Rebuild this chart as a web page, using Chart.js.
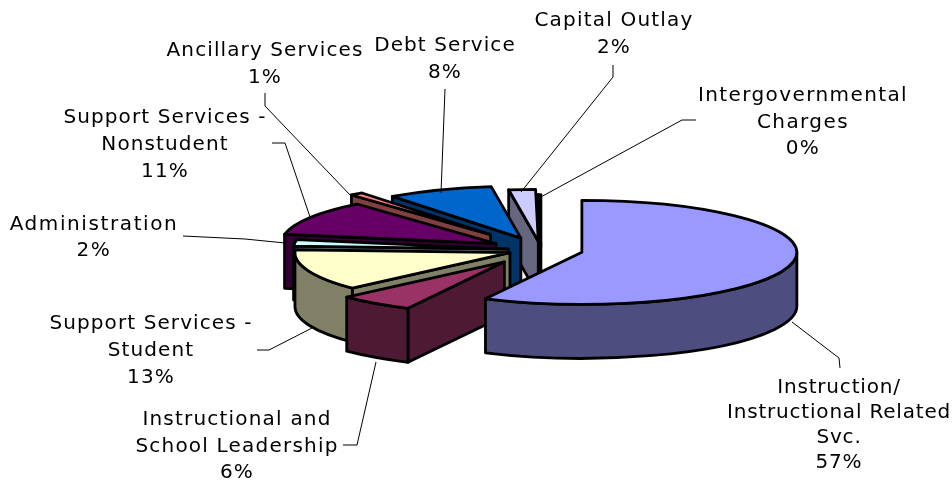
<!DOCTYPE html>
<html>
<head>
<meta charset="utf-8">
<style>
  html, body { margin: 0; padding: 0; background: #fff; }
  canvas { display: block; }
</style>
<script src="https://cdn.jsdelivr.net/npm/chart.js@4"></script>
</head>
<body>
<canvas id="budget-pie" width="952" height="484"></canvas>
<script>
const categories = [
  ['Instruction/', 'Instructional Related', 'Svc.'],
  ['Instructional and', 'School Leadership'],
  ['Support Services -', 'Student'],
  ['Administration'],
  ['Support Services -', 'Nonstudent'],
  ['Ancillary Services'],
  ['Debt Service'],
  ['Capital Outlay'],
  ['Intergovernmental', 'Charges'],
];
const shares = [57.4, 5.7, 12.8, 2, 10.9, 1, 8, 2, 0.2];

const topColors = ['#9999ff', '#993366', '#ffffcc', '#ccffff', '#660066', '#ff8080', '#0066cc', '#ccccff', '#000080'];
const wallColors = ['#4d4d80', '#4d1933', '#808066', '#668080', '#330033', '#804040', '#003366', '#666680', '#000040'];
const explode = [42, 61, 33, 33, 52, 81, 53, 36, 14];

// label centre x, first line centre y, and the leader line for each slice
const labelX = [839, 237, 151, 94, 165, 265, 445, 614, 803];
const labelY = [387, 419, 323, 224, 117, 50, 45, 20, 95];
const lineGaps = [25, 26.5, 27, 26, 27, 27, 27, 27, 26.5];
const letterGaps = [0.8, 1.2, 1.1, 1.6, 1.1, 1.1, 1.1, 1.2, 1.4];
const leaders = [
  [[840, 368], [839, 358], [792, 322]],
  [[343, 445], [357, 445], [376, 362]],
  [[257, 350], [269, 350], [312, 328]],
  [[183, 236], [245, 239], [285, 243]],
  [[272, 143], [285, 143], [310, 217]],
  [[265, 93], [265, 106], [351, 196]],
  [[445, 89], [441, 193]],
  [[613, 65], [613, 77], [521, 192]],
  [[696, 120], [682, 120], [539, 198]],
];

const RADIUS = 215;
const TILT = 0.242;
const DEPTH = 54;

function sliceCenter(arc, pull) {
  const mid = (arc.startAngle + arc.endAngle) / 2;
  return { x: arc.x + Math.cos(mid) * pull, y: arc.y + Math.sin(mid) * pull * TILT };
}

function rim(c, angle, drop) {
  return { x: c.x + Math.cos(angle) * RADIUS, y: c.y + Math.sin(angle) * RADIUS * TILT + drop };
}

function paint(ctx, color) {
  ctx.fillStyle = color;
  ctx.fill();
  ctx.stroke();
}

function drawWalls(ctx, arc, c, color) {
  const cutWall = angle => {
    const p = rim(c, angle, 0);
    ctx.beginPath();
    ctx.moveTo(c.x, c.y);
    ctx.lineTo(p.x, p.y);
    ctx.lineTo(p.x, p.y + DEPTH);
    ctx.lineTo(c.x, c.y + DEPTH);
    ctx.closePath();
    paint(ctx, color);
  };
  if (Math.cos(arc.startAngle) < 0) cutWall(arc.startAngle);
  if (Math.cos(arc.endAngle) > 0) cutWall(arc.endAngle);

  // only the part of the rim between 0 and PI faces the viewer
  const from = Math.max(arc.startAngle, 0);
  const to = Math.min(arc.endAngle, Math.PI);
  if (to > from) {
    ctx.beginPath();
    ctx.ellipse(c.x, c.y, RADIUS, RADIUS * TILT, 0, from, to);
    ctx.ellipse(c.x, c.y + DEPTH, RADIUS, RADIUS * TILT, 0, to, from, true);
    ctx.closePath();
    paint(ctx, color);
  }
}

function drawTop(ctx, arc, c) {
  ctx.save();
  ctx.translate(c.x, c.y);
  ctx.scale(1, TILT);
  ctx.translate(-arc.x, -arc.y);
  arc.draw(ctx);
  ctx.restore();

  ctx.beginPath();
  ctx.moveTo(c.x, c.y);
  ctx.ellipse(c.x, c.y, RADIUS, RADIUS * TILT, 0, arc.startAngle, arc.endAngle);
  ctx.closePath();
  ctx.stroke();
}

function drawLabels(ctx) {
  ctx.strokeStyle = '#000';
  ctx.lineWidth = 1;
  leaders.forEach(points => {
    ctx.beginPath();
    points.forEach(([x, y], i) => (i ? ctx.lineTo(x, y) : ctx.moveTo(x, y)));
    ctx.stroke();
  });

  ctx.fillStyle = '#000';
  ctx.font = '20px "DejaVu Sans"';
  ctx.textAlign = 'center';
  ctx.textBaseline = 'middle';
  categories.forEach((lines, i) => {
    ctx.letterSpacing = letterGaps[i] + 'px';
    const text = [...lines, Math.round(shares[i]) + '%'];
    text.forEach((line, n) => ctx.fillText(line, labelX[i], labelY[i] + 1 + n * lineGaps[i]));
  });
}

const tiltedPie = {
  id: 'tiltedPie',
  beforeDatasetsDraw(chart) {
    const ctx = chart.ctx;
    const arcs = chart.getDatasetMeta(0).data;
    ctx.save();
    ctx.lineJoin = 'round';
    ctx.strokeStyle = '#000';
    ctx.lineWidth = 2.8;
    // back slices first, the big front slice goes on last
    for (let i = arcs.length - 1; i >= 0; i--) {
      const c = sliceCenter(arcs[i], explode[i]);
      drawWalls(ctx, arcs[i], c, wallColors[i]);
      drawTop(ctx, arcs[i], c);
    }
    drawLabels(ctx);
    ctx.restore();
    return false;
  },
};

new Chart(document.getElementById('budget-pie'), {
  type: 'pie',
  data: {
    labels: categories.map(lines => lines.join(' ')),
    datasets: [{
      data: shares,
      backgroundColor: topColors,
      borderWidth: 0,
    }],
  },
  options: {
    responsive: false,
    animation: false,
    radius: RADIUS,
    layout: { padding: { left: 130, top: 16 } },
    plugins: { legend: { display: false }, tooltip: { enabled: false } },
  },
  plugins: [tiltedPie],
});
</script>
</body>
</html>
